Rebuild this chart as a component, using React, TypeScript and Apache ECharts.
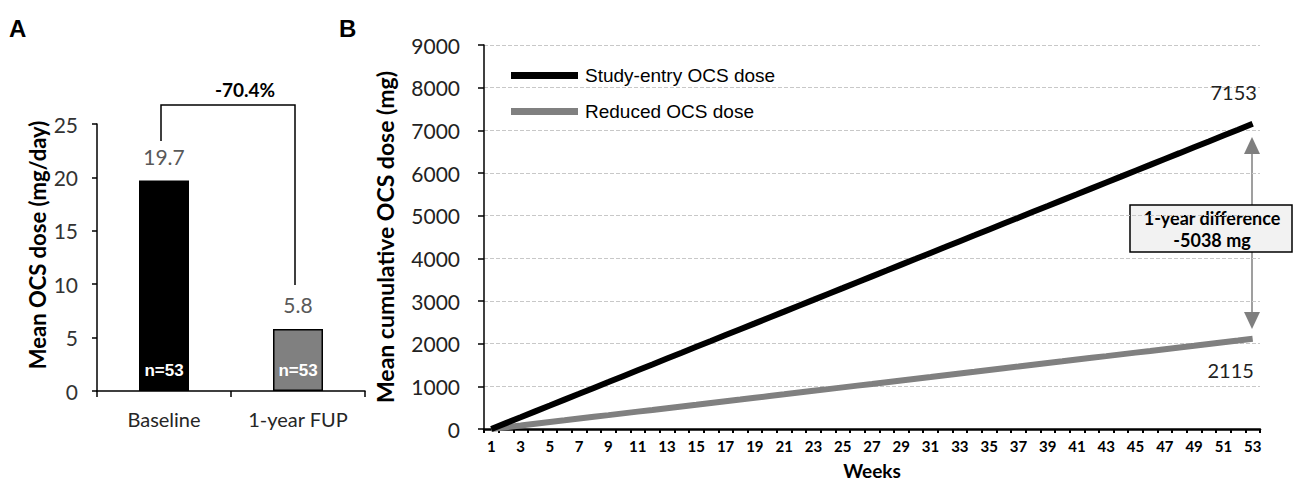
import React, { useEffect, useRef } from "react";
import * as echarts from "echarts";

// Panel A data
const barCategories = ["Baseline", "1-year FUP"];
const barValues = [19.7, 5.8];
const barN = ["n=53", "n=53"];
const barColors = ["#000000", "#808080"];
const changeLabel = "-70.4%";
const panelATitle = "Mean OCS dose (mg/day)";

// Panel B data
const weeks = [
  "1","2","3","4","5","6","7","8","9","10","11","12","13","14","15","16","17","18","19","20",
  "21","22","23","24","25","26","27","28","29","30","31","32","33","34","35","36","37","38","39","40",
  "41","42","43","44","45","46","47","48","49","50","51","52","53",
];
const studyEntryDose = [
  0, 138, 275, 413, 550, 688, 825, 963, 1100, 1238, 1376, 1513, 1651, 1788, 1926, 2063, 2201, 2339,
  2476, 2614, 2751, 2889, 3026, 3164, 3301, 3439, 3577, 3714, 3852, 3989, 4127, 4264, 4402, 4539,
  4677, 4815, 4952, 5090, 5227, 5365, 5502, 5640, 5778, 5915, 6053, 6190, 6328, 6465, 6603, 6740,
  6878, 7015, 7153,
];
const reducedDose = [
  0, 41, 81, 122, 163, 203, 244, 285, 325, 366, 407, 447, 488, 529, 569, 610, 651, 691, 732, 773,
  813, 854, 895, 935, 976, 1017, 1057, 1098, 1139, 1180, 1220, 1261, 1302, 1342, 1383, 1424, 1464,
  1505, 1546, 1586, 1627, 1668, 1708, 1749, 1790, 1830, 1871, 1912, 1952, 1993, 2034, 2074, 2115,
];
const seriesNames = ["Study-entry OCS dose", "Reduced OCS dose"];
const differenceLines = ["1-year difference", "-5038 mg"];

const FONT = "Lato";

export default function App() {
  const ref = useRef<HTMLDivElement>(null);

  useEffect(() => {
    if (!ref.current) return;
    const chart = echarts.init(ref.current, null, { renderer: "svg" });

    const lastIdx = weeks.length - 1;

    const option: any = {
      animation: false,
      backgroundColor: "#ffffff",
      textStyle: { fontFamily: FONT },
      legend: {
        orient: "vertical",
        left: 506,
        top: 60,
        itemWidth: 67,
        itemHeight: 7,
        itemGap: 15,
        icon: "rect",
        data: seriesNames,
        textStyle: {
          fontFamily: "Liberation Sans",
          fontSize: 19,
          color: "#000",
          padding: [0, 0, 0, 2],
          lineHeight: 21,
        },
      },
      grid: [
        { left: 97, top: 124, width: 268, height: 267, containLabel: false },
        { left: 484, top: 45, width: 776, height: 387, containLabel: false },
      ],
      xAxis: [
        {
          type: "category",
          gridIndex: 0,
          data: barCategories,
          axisLine: { lineStyle: { color: "#000", width: 1.5 } },
          axisTick: { show: true, length: 6, lineStyle: { color: "#000", width: 1.5 } },
          axisLabel: { fontFamily: FONT, fontSize: 20, color: "#262626", margin: 18 },
        },
        {
          type: "category",
          gridIndex: 1,
          data: weeks,
          boundaryGap: true,
          name: "Weeks",
          nameLocation: "middle",
          nameGap: 32,
          nameTextStyle: { fontFamily: FONT, fontWeight: "bold", fontSize: 19, color: "#000" },
          axisLine: { lineStyle: { color: "#000", width: 2.5 } },
          axisTick: { show: true, interval: 0, length: 4, lineStyle: { color: "#000", width: 2 } },
          axisLabel: {
            interval: 1,
            fontFamily: FONT,
            fontWeight: "bold",
            fontSize: 15,
            color: "#000",
            margin: 9,
          },
        },
      ],
      yAxis: [
        {
          type: "value",
          gridIndex: 0,
          min: 0,
          max: 25,
          interval: 5,
          axisLine: { show: true, lineStyle: { color: "#000", width: 1.5 } },
          axisTick: { show: true, length: 5, lineStyle: { color: "#000", width: 1.5 } },
          axisLabel: { fontFamily: FONT, fontSize: 21, color: "#333", margin: 19 },
          splitLine: { show: false },
        },
        {
          type: "value",
          gridIndex: 1,
          min: 0,
          max: 9000,
          interval: 1000,
          name: "Mean cumulative OCS dose (mg)",
          nameLocation: "middle",
          nameGap: 88,
          nameTextStyle: { fontFamily: FONT, fontWeight: "bold", fontSize: 23, color: "#000" },
          axisLine: { show: true, lineStyle: { color: "#000", width: 1.5 } },
          axisTick: { show: true, length: 6, lineStyle: { color: "#000", width: 1.5 } },
          axisLabel: {
            fontFamily: FONT,
            fontSize: 21,
            color: "#222",
            margin: 24,
            formatter: (v: number) => String(v),
          },
          splitLine: { show: true, lineStyle: { color: "#c8c8c8", type: "dashed", width: 1 } },
        },
      ],
      series: [
        {
          type: "bar",
          xAxisIndex: 0,
          yAxisIndex: 0,
          barWidth: 50,
          data: barValues.map((v, i) => ({
            value: v,
            itemStyle: {
              color: barColors[i],
              borderColor: "#000",
              borderWidth: i === 0 ? 0 : 1.5,
            },
          })),
          label: {
            show: true,
            position: "top",
            distance: 14,
            fontFamily: FONT,
            fontSize: 21,
            color: "#595959",
            formatter: "{c}",
          },
          markPoint: {
            symbol: "circle",
            symbolSize: 1,
            itemStyle: { color: "rgba(0,0,0,0)" },
            label: {
              show: true,
              position: "inside",
              offset: [0, -21],
              fontFamily: "Liberation Sans",
              fontWeight: "bold",
              fontSize: 17,
              color: "#fff",
              formatter: (p: any) => p.name,
            },
            data: barN.map((n, i) => ({ name: n, coord: [i, 0], value: 0 })),
          },
        },
        {
          name: seriesNames[0],
          type: "line",
          xAxisIndex: 1,
          yAxisIndex: 1,
          data: studyEntryDose,
          symbol: "none",
          color: "#000",
          lineStyle: { color: "#000", width: 6 },
          z: 3,
          markPoint: {
            symbol: "circle",
            symbolSize: 1,
            itemStyle: { color: "rgba(0,0,0,0)" },
            label: {
              show: true,
              position: "inside",
              offset: [-19, -32],
              fontFamily: FONT,
              fontSize: 20,
              color: "#222",
              formatter: "{c}",
            },
            data: [{ coord: [lastIdx, studyEntryDose[lastIdx]], value: studyEntryDose[lastIdx] }],
          },
        },
        {
          name: seriesNames[1],
          type: "line",
          xAxisIndex: 1,
          yAxisIndex: 1,
          data: reducedDose,
          symbol: "none",
          color: "#808080",
          lineStyle: { color: "#808080", width: 6 },
          z: 2,
          markPoint: {
            symbol: "circle",
            symbolSize: 1,
            itemStyle: { color: "rgba(0,0,0,0)" },
            label: {
              show: true,
              position: "inside",
              offset: [-22, 31],
              fontFamily: FONT,
              fontSize: 20,
              color: "#222",
              formatter: "{c}",
            },
            data: [{ coord: [lastIdx, reducedDose[lastIdx]], value: reducedDose[lastIdx] }],
          },
        },
      ],
      graphic: [
        {
          type: "text",
          x: 9,
          y: 16,
          style: { text: "A", fontFamily: "Liberation Sans", fontWeight: "bold", fontSize: 24, fill: "#000" },
        },
        {
          type: "text",
          x: 339,
          y: 16,
          style: { text: "B", fontFamily: "Liberation Sans", fontWeight: "bold", fontSize: 24, fill: "#000" },
        },
        {
          type: "text",
          x: 37,
          y: 245,
          rotation: Math.PI / 2,
          style: {
            text: panelATitle,
            fontFamily: FONT,
            fontWeight: "bold",
            fontSize: 22,
            fill: "#000",
            align: "center",
            verticalAlign: "middle",
          },
        },
        {
          type: "polyline",
          shape: { points: [[161, 141], [161, 105], [295, 105], [295, 285]] },
          style: { stroke: "#000", lineWidth: 1.5, fill: null },
        },
        {
          type: "text",
          x: 245,
          y: 89,
          style: {
            text: changeLabel,
            fontFamily: FONT,
            fontWeight: "bold",
            fontSize: 19,
            fill: "#000",
            align: "center",
            verticalAlign: "middle",
          },
        },
        {
          type: "line",
          shape: { x1: 1252, y1: 150, x2: 1252, y2: 316 },
          style: { stroke: "#7f7f7f", lineWidth: 1.5 },
        },
        {
          type: "polygon",
          shape: { points: [[1252, 137], [1244, 154], [1260, 154]] },
          style: { fill: "#7f7f7f" },
        },
        {
          type: "polygon",
          shape: { points: [[1252, 329], [1244, 312], [1260, 312]] },
          style: { fill: "#7f7f7f" },
        },
        {
          type: "rect",
          shape: { x: 1130, y: 205, width: 162, height: 47 },
          style: { fill: "#f2f2f2", stroke: "#000", lineWidth: 1.5 },
        },
        {
          type: "text",
          x: 1212,
          y: 218,
          style: {
            text: differenceLines[0],
            fontFamily: FONT,
            fontWeight: "bold",
            fontSize: 18,
            fill: "#000",
            align: "center",
            verticalAlign: "middle",
          },
        },
        {
          type: "text",
          x: 1212,
          y: 240,
          style: {
            text: differenceLines[1],
            fontFamily: FONT,
            fontWeight: "bold",
            fontSize: 18,
            fill: "#000",
            align: "center",
            verticalAlign: "middle",
          },
        },
      ],
    };

    chart.setOption(option);
    return () => chart.dispose();
  }, []);

  return (
    <div
      ref={ref}
      style={{ position: "fixed", left: 0, top: 0, width: 1293, height: 485, background: "#fff" }}
    />
  );
}
